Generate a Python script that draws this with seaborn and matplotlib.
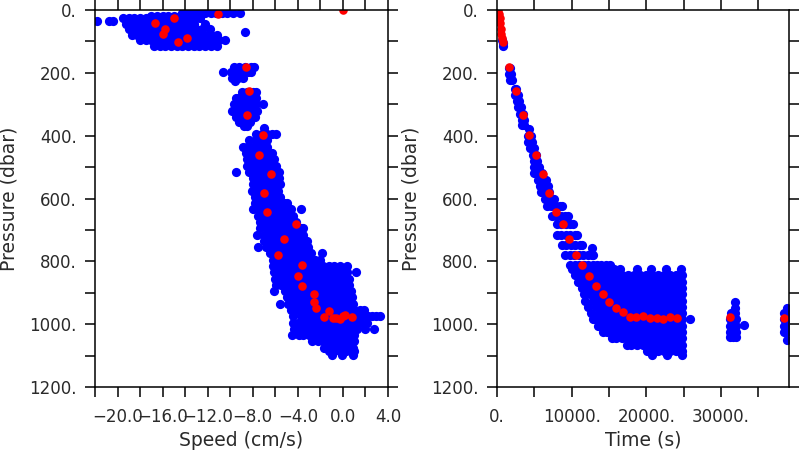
import pandas as pd
import seaborn as sb
from matplotlib import pyplot as plt

# blue cloud, speed panel: one list of speeds per pressure level
upper_levels = [8, 18, 27, 45, 62, 80, 97, 113]
upper_speeds = [
    [-14.25, -13.75, -13.25, -12.75, -12.25, -11.75, -11.25, -10.75, -10.25, -9.75, -9.1],
    [-17.0, -16.5, -16.0, -15.5, -15.0, -14.5],
    [-19.5, -19.0, -18.5, -18.0, -17.5, -17.0, -16.5, -16.0, -15.5, -15.0, -14.5, -14.0, -13.5, -13.0, -12.7],
    [-19.25, -18.75, -18.25, -17.75, -17.25, -16.75, -16.25, -15.75, -15.25, -14.75, -14.25, -13.75, -13.25, -12.2],
    [-19.0, -18.5, -18.0, -17.5, -17.0, -16.5, -16.0, -15.5, -15.0, -14.5, -14.0, -13.5, -13.0, -12.5, -11.8],
    [-18.75, -18.25, -17.75, -17.25, -16.75, -16.25, -15.75, -15.25, -14.75, -14.25, -13.75, -13.25, -12.75, -12.25, -11.75, -11.2],
    [-18.0, -17.5, -17.0, -16.5, -16.0, -15.5, -15.0, -14.5, -14.0, -13.5, -13.0, -12.5, -12.0, -11.5, -11.0, -10.5],
    [-16.75, -16.25, -15.75, -15.25, -14.75, -14.25, -13.75, -13.25, -12.75, -12.25, -11.75, -11.2],
]

middle_levels = [180, 197, 215, 226, 262, 280, 300, 320, 340, 358, 370]
middle_speeds = [
    [-9.7, -9.2, -8.7, -8.2, -7.9],
    [-10.6, -9.95, -9.45, -8.95, -8.45, -8.2],
    [-9.8, -9.3, -8.9],
    [-9.6],
    [-9.0, -8.5, -8.0, -7.7],
    [-9.5, -9.25, -8.75, -8.25, -7.75],
    [-9.7, -9.2, -8.7, -8.2, -7.7, -7.1],
    [-9.8, -9.45, -8.95, -8.45, -7.95, -7.6],
    [-9.5, -9.0, -8.5, -8.0, -7.8],
    [-9.2, -8.75, -8.25],
    [-8.8, -8.5],
]

lower_levels = [375, 395, 415, 435, 455, 475, 495, 515, 535, 555, 575, 595, 615, 635, 655, 675, 695, 715]
lower_speeds = [
    [-7.0],
    [-7.7, -7.2, -6.7, -6.3, -5.9],
    [-8.3, -7.75, -7.25, -6.7],
    [-8.9, -8.5, -8.0, -7.5, -7.0, -6.7],
    [-8.6, -8.25, -7.75, -7.25, -6.75, -6.3],
    [-8.5, -8.0, -7.5, -7.0, -6.5, -6.1],
    [-8.5, -8.25, -7.75, -7.25, -6.75, -6.25, -5.9],
    [-9.5, -8.3, -8.0, -7.5, -7.0, -6.5, -6.0, -5.7],
    [-8.0, -7.75, -7.25, -6.75, -6.25, -5.7],
    [-8.0, -7.5, -7.0, -6.5, -6.0, -5.6],
    [-8.1, -7.75, -7.25, -6.75, -6.25, -5.8],
    [-7.8, -7.5, -7.0, -6.5, -6.0, -5.6],
    [-7.8, -7.25, -6.75, -6.25, -5.75, -5.25, -5.0],
    [-8.0, -7.5, -7.0, -6.5, -6.0, -5.5, -5.0, -4.6, -3.7],
    [-7.5, -7.25, -6.75, -6.25, -5.75, -5.25, -4.75, -4.4],
    [-7.4, -7.0, -6.5, -6.0, -5.5, -5.0, -4.5, -4.2],
    [-7.4, -6.75, -6.25, -5.75, -5.25, -4.75, -4.25, -3.75, -3.5],
    [-7.6, -7.0, -6.5, -6.0, -5.5, -5.0, -4.5, -4.0, -3.5],
]

bottom_levels = [735, 755, 775, 795, 815, 835, 855, 875, 895, 915, 935, 955, 975, 995, 1015, 1035, 1055, 1075, 1087, 1097]
bottom_speeds = [
    [-7.0, -6.75, -6.25, -5.75, -5.25, -4.75, -4.25, -3.75, -3.2],
    [-7.5, -6.8, -6.5, -6.0, -5.5, -5.0, -4.5, -4.0, -3.5, -3.1],
    [-6.5, -6.25, -5.75, -5.25, -4.75, -4.25, -3.75, -3.25, -2.8, -1.9],
    [-6.2, -6.0, -5.5, -5.0, -4.5, -4.0, -3.5, -3.0, -2.5, -2.0],
    [-6.2, -5.75, -5.25, -4.75, -4.25, -3.75, -3.25, -2.75, -2.25, -1.75, -1.25, -0.75, -0.25, 0.4],
    [-6.1, -5.5, -5.0, -4.5, -4.0, -3.5, -3.0, -2.5, -2.0, -1.5, -1.0, -0.5, 0.0, 0.4, 1.2],
    [-6.0, -5.75, -5.25, -4.75, -4.25, -3.75, -3.25, -2.75, -2.25, -1.75, -1.25, -0.75, -0.25, 0.25, 0.5],
    [-5.9, -5.5, -5.0, -4.5, -4.0, -3.5, -3.0, -2.5, -2.0, -1.5, -1.0, -0.5, 0.0, 0.5],
    [-6.1, -5.1, -4.75, -4.25, -3.75, -3.25, -2.75, -2.25, -1.75, -1.25, -0.75, -0.25, 0.25, 0.7],
    [-5.0, -4.5, -4.0, -3.5, -3.0, -2.5, -2.0, -1.5, -1.0, -0.5, 0.0, 0.5, 0.8],
    [-5.6, -4.9, -4.25, -3.75, -3.25, -2.75, -2.25, -1.75, -1.25, -0.75, -0.25, 0.25, 0.75, 0.9],
    [-4.6, -4.0, -3.5, -3.0, -2.5, -2.0, -1.5, -1.0, -0.5, 0.0, 0.5, 1.0, 1.5, 1.9],
    [-4.4, -3.75, -3.25, -2.75, -2.25, -1.75, -1.25, -0.75, -0.25, 0.25, 0.75, 1.25, 1.75, 2.25, 2.6, 2.9, 3.3],
    [-4.4, -4.0, -3.5, -3.0, -2.5, -2.0, -1.5, -1.0, -0.5, 0.0, 0.5, 1.0, 1.5, 2.1],
    [-4.3, -3.75, -3.25, -2.75, -2.25, -1.75, -1.25, -0.75, -0.25, 0.25, 0.75, 1.25, 2.0, 2.8],
    [-4.5, -3.9, -3.5, -3.0, -2.5, -2.0, -1.5, -1.0, -0.5, 0.0, 0.5, 1.0],
    [-2.7, -2.25, -1.75, -1.25, -0.75, -0.25, 0.25, 0.75, 1.0],
    [-1.7, -1.5, -1.0, -0.5, 0.0, 0.5, 0.9],
    [-1.2, -0.75, -0.25, 0.25, 0.75, 1.0],
    [-1.0, -0.1, 0.9],
]

# blue cloud, time panel: one list of times per pressure level
descent_levels = [95, 105, 113, 185, 205, 222, 250, 270, 290, 310, 330, 350, 365, 380, 400, 420, 440, 460, 480,
                  500, 520, 540, 560, 580, 600, 625, 657, 681, 716, 748, 758, 779, 811]
descent_times = [
    [700], [750], [800],
    [1550, 1700], [1650, 1900], [1700, 2000],
    [2400, 2600], [2450, 2800], [2650, 3000], [2800, 3200], [3100, 3500], [3300, 3600], [3400, 3650],
    [4300], [4100, 4500], [4200, 4700], [4400, 5000], [4800, 5250], [4950, 5400],
    [4950, 5650], [5000, 5500, 6000], [5500, 6100, 6600], [5700, 6300, 6800], [5900, 6500, 7000],
    [6460, 7000, 7575],
    [6680, 7300, 7900, 8500, 8690],
    [7350, 7950, 8550, 9150, 9580],
    [8020, 8620, 9220, 9820, 10250],
    [8020, 8620, 9220, 9820, 10400, 10700],
    [8690, 9290, 9890, 10490, 11090, 11360],
    [12700],
    [9130, 9730, 10330, 10930, 11530, 12130, 12730, 12920],
    [9800, 10400, 11000, 11600, 12200, 12800, 13400, 14000, 14600, 15150],
]

block_levels = [825, 845, 865, 885, 905, 925, 945, 965, 985, 1005, 1025, 1045, 1065, 1085, 1097]
block_times = [
    [10100, 10900, 11700, 12500, 13300, 14100, 14900, 15700, 16500, 18700, 20700, 22600, 24700],
    [10470, 11200, 12000, 12800, 13600, 14400, 15200, 16000, 16800, 17600, 18400, 19200, 20000, 20800, 21600, 22400, 23200, 24000, 24770],
    [10900, 11600, 12400, 13200, 14000, 14800, 15600, 16400, 17200, 18000, 18800, 19600, 20400, 21200, 22000, 22800, 23600, 24400, 24770],
    [11360, 12000, 12800, 13600, 14400, 15200, 16000, 16800, 17600, 18400, 19200, 20000, 20800, 21600, 22400, 23200, 24000, 24770],
    [11600, 12400, 13200, 14000, 14800, 15600, 16400, 17200, 18000, 18800, 19600, 20400, 21200, 22000, 22800, 23600, 24400, 24770],
    [11800, 12800, 13600, 14400, 15200, 16000, 16800, 17600, 18400, 19200, 20000, 20800, 21600, 22400, 23200, 24000, 24770],
    [12250, 13200, 14000, 14800, 15600, 16400, 17200, 18000, 18800, 19600, 20400, 21200, 22000, 22800, 23600, 24400, 24770],
    [12570, 13600, 14400, 15200, 16000, 16800, 17600, 18400, 19200, 20000, 20800, 21600, 22400, 23200, 24000, 24770],
    [12920, 13200, 14000, 14800, 15600, 16400, 17200, 18000, 18800, 19600, 20400, 21200, 22000, 22800, 23600, 24400, 24770, 25890],
    [13590, 14400, 15200, 16000, 16800, 17600, 18400, 19200, 20000, 20800, 21600, 22400, 23200, 24000, 24770],
    [14260, 14800, 15600, 16400, 17200, 18000, 18800, 19600, 20400, 21200, 22000, 22800, 23600, 24400, 24770],
    [15370, 16000, 16800, 17600, 18400, 19200, 20000, 20800, 21600, 22400, 23200, 24000, 24770],
    [17380, 18000, 18800, 19600, 20400, 21200, 22000, 22800, 23600, 24400, 24770],
    [20050, 20800, 21600, 22400, 23200, 24000, 24770],
    [20720, 22720, 24730],
]

late_levels = [930, 950, 965, 985, 1002, 1005, 1025, 1040, 1050]
late_times = [
    [31860],
    [31860, 38900],
    [31300, 31860, 38450, 38900],
    [31200, 31650, 32000, 38400, 38900],
    [33100],
    [31200, 31650, 32000, 38400, 38900],
    [31200, 31650, 32000, 38500, 38900],
    [31200, 31650, 32000],
    [38900],
]

# red points
red_speed = [0.0, -11.1, -14.95, -16.7, -15.8, -16.0, -13.85, -14.6, -8.6, -8.3, -8.5, -7.1, -7.45, -6.35, -7.0, -6.7,
             -4.2, -5.2, -5.75, -3.6, -4.0, -3.6, -2.6, -2.6, -2.4, -1.65, -1.25, -0.9, -0.6, -0.3, 0.0, 0.2, 0.8]
red_speed_pressure = [0, 13, 26, 42, 59, 75, 89, 103, 181, 257, 333, 397, 463, 521, 584, 644,
                      681, 728, 781, 812, 848, 880, 903, 928, 949, 976, 959, 979, 981, 984, 974, 972, 978]
red_time = [200, 300, 360, 450, 520, 600, 680, 760, 1600, 2540, 3430, 4320, 5170, 6100, 7000, 7890, 8780, 9670,
            10600, 11450, 12390, 13280, 14170, 15060, 16000, 16890, 17780, 18670, 19600, 20450, 21390, 22280,
            23200, 24060, 31280, 38450]
red_time_pressure = [0, 13, 26, 42, 59, 75, 89, 103, 181, 257, 333, 397, 463, 521, 584, 644, 681, 728,
                     781, 812, 848, 880, 903, 928, 949, 961, 976, 977, 975, 980, 981, 984,
                     977, 979, 977, 980]

# isolated surface points
lone_speed = [-21.8, -20.8, -20.4, -8.7]
lone_pressure = [36, 35, 35, 70]

speed_ticks = [-22, -20, -18, -16, -14, -12, -10, -8, -6, -4, -2, 0, 2, 4]
speed_labels = ['', '\u221220.0', '', '\u221216.0', '', '\u221212.0', '', '\u22128.0', '', '\u22124.0', '', '0.0', '', '4.0']
time_ticks = [0, 5000, 10000, 15000, 20000, 25000, 30000, 35000]
time_labels = ['0.', '', '10000.', '', '20000.', '', '30000.', '']
pressure_ticks = [0, 100, 200, 300, 400, 500, 600, 700, 800, 900, 1000, 1100, 1200]
pressure_labels = ['0.', '', '200.', '', '400.', '', '600.', '', '800.', '', '1000.', '', '1200.']


def cloud(levels, rows, name):
    recs = []
    for lev, row in zip(levels, rows):
        for v in row:
            recs.append({name: v, 'pressure': lev})
    return pd.DataFrame(recs)


sb.set_style('ticks')
plt.rcParams['font.family'] = ['DejaVu Sans']
txt = '#2a2a2a'
blue_size = 44
red_size = 38

speed_df = pd.concat([cloud(upper_levels, upper_speeds, 'speed'),
                      cloud(middle_levels, middle_speeds, 'speed'),
                      cloud(lower_levels, lower_speeds, 'speed'),
                      cloud(bottom_levels, bottom_speeds, 'speed'),
                      pd.DataFrame({'speed': lone_speed, 'pressure': lone_pressure})])
time_df = pd.concat([cloud(descent_levels, descent_times, 'time'),
                     cloud(block_levels, block_times, 'time'),
                     cloud(late_levels, late_times, 'time')])

fig = plt.figure(figsize=[8, 4.5], dpi=100)
ax1 = fig.add_axes([95 / 800., 1 - 387 / 450., 293 / 800., 377 / 450.])
ax2 = fig.add_axes([497 / 800., 1 - 387 / 450., 292 / 800., 377 / 450.])

sb.scatterplot(data=speed_df, x='speed', y='pressure', color='#0000ff', s=blue_size, linewidth=0, ax=ax1)
sb.scatterplot(x=red_speed, y=red_speed_pressure, color='#ff0000', s=red_size, linewidth=0, ax=ax1)
sb.scatterplot(data=time_df, x='time', y='pressure', color='#0000ff', s=blue_size, linewidth=0, ax=ax2)
sb.scatterplot(x=red_time, y=red_time_pressure, color='#ff0000', s=red_size, linewidth=0, ax=ax2)

ax1.set_xlim(-22, 4)
ax2.set_xlim(0, 39125)
ax1.set_xticks(speed_ticks)
ax1.set_xticklabels(speed_labels)
ax2.set_xticks(time_ticks)
ax2.set_xticklabels(time_labels)
ax1.set_xlabel('Speed (cm/s)', fontsize=13.5, color=txt, labelpad=3.5)
ax2.set_xlabel('Time (s)', fontsize=13.5, color=txt, labelpad=3.5)

for ax in [ax1, ax2]:
    ax.set_ylim(1200, 0)
    ax.set_yticks(pressure_ticks)
    ax.set_yticklabels(pressure_labels)
    ax.set_ylabel('Pressure (dbar)', fontsize=13.5, color=txt)
    ax.yaxis.set_label_coords(-0.262, 0.5)
    ax.tick_params(axis='both', which='major', direction='out', length=7.2, width=1.1, color='black',
                   labelsize=12, labelcolor=txt, pad=6, top=True, right=True)
    ax.tick_params(axis='x', pad=8)
    for s in ax.spines.values():
        s.set_visible(True)
        s.set_linewidth(1.1)
        s.set_color('black')

fig.savefig('out.png', dpi=100)
